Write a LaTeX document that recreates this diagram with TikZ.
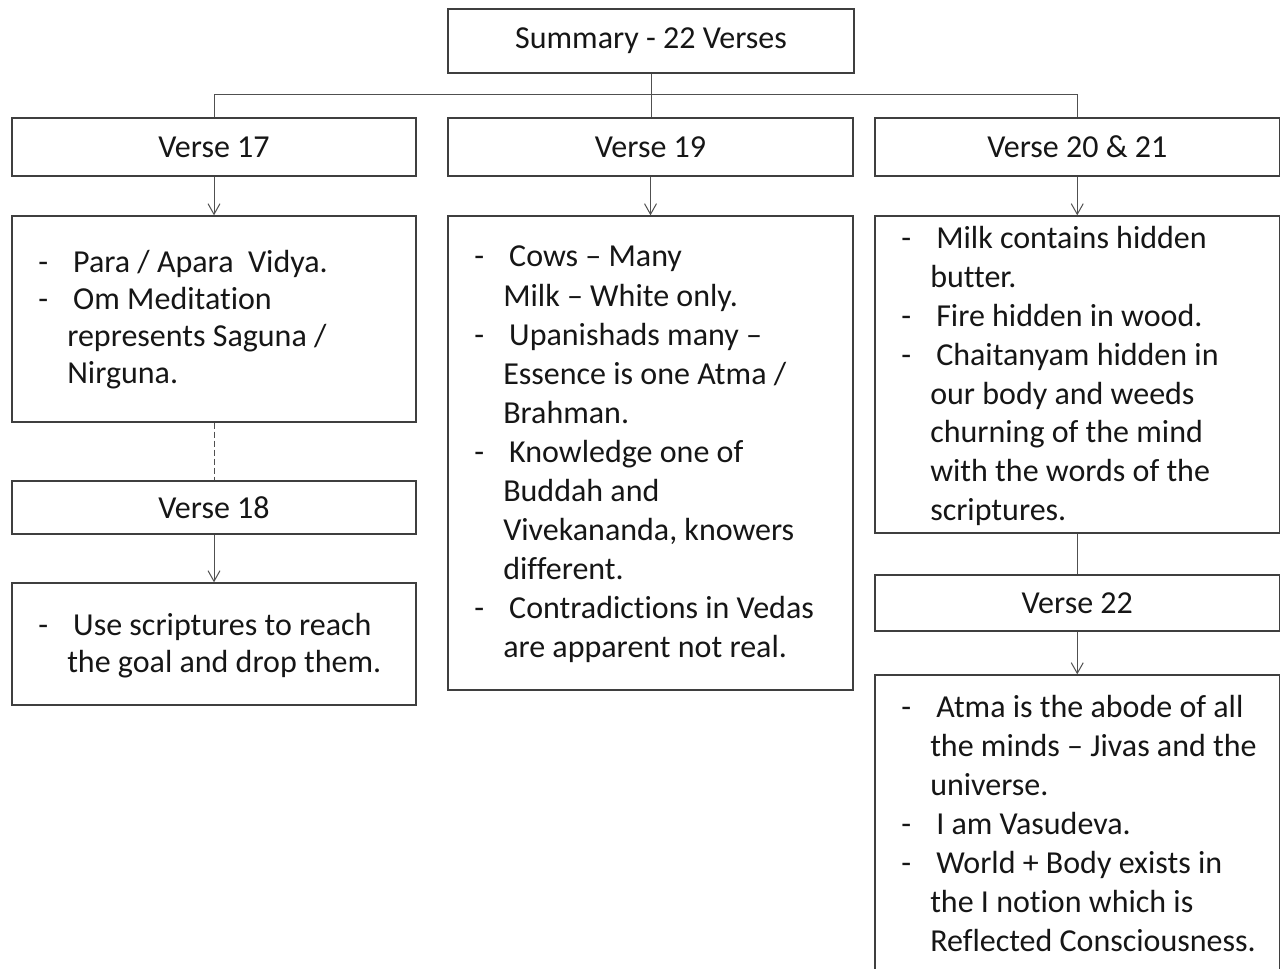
\documentclass[tikz,border=0pt]{standalone}
\usepackage{fontspec}
\setmainfont[RawFeature={-liga,-dlig}]{Carlito}
\usetikzlibrary{arrows.meta}

\definecolor{boxline}{HTML}{3F3F3F}
\definecolor{linkline}{HTML}{505050}
\definecolor{inktext}{HTML}{161616}

% bullet layout inside the text panels
\newlength\dashpos  \setlength\dashpos{19.5pt}
\newlength\contpos  \setlength\contpos{41.25pt}
\newlength\firstpos \setlength\firstpos{45.75pt}
\newcommand\firstline[1]{\makebox[\firstpos][l]{\hspace*{\dashpos}-}#1}
\newcommand\nextline[1]{\hspace*{\contpos}#1}
\newcommand\bodytext[2]{\parbox[t]{300pt}{\fontsize{24pt}{#1}\selectfont\raggedright #2}}

\tikzset{
  panel/.style={draw=boxline, line width=1pt, fill=white, inner sep=0pt,
    text=inktext, font=\fontsize{24pt}{29pt}\selectfont},
  heading/.style={panel, minimum height=43.5pt},
  lines/.style={anchor=base west, inner sep=0pt, text=inktext},
  link/.style={draw=linkline, line width=0.75pt},
  flow/.style={link, -{Straight Barb[length=8pt,width=9pt,line width=0.75pt]}},
}

\begin{document}
\begin{tikzpicture}[x=0.75pt, y=-0.75pt]
\useasboundingbox (0,0) rectangle (1281,969);
\fill[white] (0,0) rectangle (1281,969);
\clip (0,0) rectangle (1281,969);

% top of the tree
\node[panel, minimum width=304.5pt, minimum height=48pt] (sum) at (651,41) {Summary - 22 Verses};

% column headings
\node[heading, minimum width=303pt]    (v17) at (214,147)    {Verse 17};
\node[heading, minimum width=303.75pt] (v19) at (650.5,147)  {Verse 19};
\node[heading, minimum width=303.5pt]  (v20) at (1077.25,147) {Verse 20 \& 21};

% left column
\node[panel, minimum width=303pt, minimum height=154.5pt] (c17) at (214,319) {};
\node[panel, minimum width=303pt, minimum height=39.75pt] (v18) at (214,507.5) {Verse 18};
\node[panel, minimum width=303pt, minimum height=91.5pt]  (c18) at (214,644) {};

% middle column
\node[panel, minimum width=303.75pt, minimum height=355.5pt] (c19) at (650.5,453) {};

% right column
\node[panel, minimum width=303.5pt, minimum height=237.75pt] (c20) at (1077.25,374.5) {};
\node[panel, minimum width=303.5pt, minimum height=42pt]     (v22) at (1077.25,603) {Verse 22};
\node[panel, minimum width=303.5pt, minimum height=243.75pt] (c22) at (1077.25,837.5) {};

% panel texts
\node[lines] (t17) at (12,273) {\bodytext{27.75pt}{%
  \firstline{Para / Apara\ \ Vidya.}\\
  \firstline{Om Meditation}\\
  \nextline{represents Saguna /}\\
  \nextline{Nirguna.}}};

\node[lines] (t18) at (12,635) {\bodytext{27.75pt}{%
  \firstline{Use scriptures to reach}\\
  \nextline{the goal and drop them.}}};

\node[lines] (t19) at (448,267) {\bodytext{29.3pt}{%
  \firstline{Cows – Many}\\
  \nextline{Milk – White only.}\\
  \firstline{Upanishads many –}\\
  \nextline{Essence is one Atma /}\\
  \nextline{Brahman.}\\
  \firstline{Knowledge one of}\\
  \nextline{Buddah and}\\
  \nextline{Vivekananda, knowers}\\
  \nextline{different.}\\
  \firstline{Contradictions in Vedas}\\
  \nextline{are apparent not real.}}};

\node[lines] (t20) at (875,249) {\bodytext{29.1pt}{%
  \firstline{Milk contains hidden}\\
  \nextline{butter.}\\
  \firstline{Fire hidden in wood.}\\
  \firstline{Chaitanyam hidden in}\\
  \nextline{our body and weeds}\\
  \nextline{churning of the mind}\\
  \nextline{with the words of the}\\
  \nextline{scriptures.}}};

\node[lines] (t22) at (875,717) {\bodytext{29.25pt}{%
  \firstline{Atma is the abode of all}\\
  \nextline{the minds – Jivas and the}\\
  \nextline{universe.}\\
  \firstline{I am Vasudeva.}\\
  \firstline{World + Body exists in}\\
  \nextline{the I notion which is}\\
  \nextline{Reflected Consciousness.}}};

% connectors
\coordinate (bar) at (0,95);
\draw[link] (sum.south) -- (sum.south |- v19.north);
\draw[link] (v17.north) -- (v17.north |- bar) -| (v20.north);
\draw[flow] (v17.south) -- (c17.north);
\draw[link, dash pattern=on 4.5pt off 2.25pt] (c17.south) -- (v18.north);
\draw[flow] (v18.south) -- (c18.north);
\draw[flow] (v19.south) -- (c19.north);
\draw[flow] (v20.south) -- (c20.north);
\draw[link] (c20.south) -- (v22.north);
\draw[flow] (v22.south) -- (c22.north);
\end{tikzpicture}
\end{document}
